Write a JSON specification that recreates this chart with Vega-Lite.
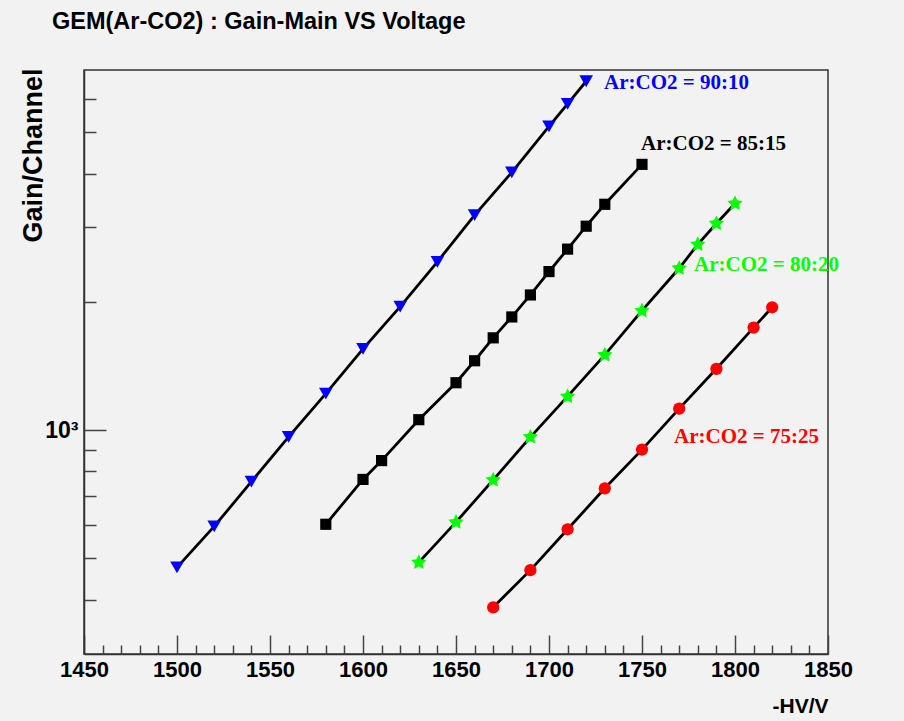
{
  "$schema": "https://vega.github.io/schema/vega-lite/v6.json",
  "width": 744,
  "height": 584,
  "autosize": {"type": "none"},
  "padding": {"left": 84, "top": 70, "right": 76, "bottom": 67},
  "background": "#f2f2f2",
  "title": {
    "text": "GEM(Ar-CO2) : Gain-Main VS Voltage",
    "anchor": "start",
    "frame": "group",
    "font": "Liberation Sans",
    "fontWeight": "bold",
    "fontSize": 23.5,
    "color": "#000000",
    "dx": -32,
    "offset": 16,
    "baseline": "alphabetic"
  },
  "config": {
    "view": {"stroke": "#333333", "strokeWidth": 1.5, "fill": "#f2f2f2"}
  },
  "datasets": {
    "points": [
      {"series": "90:10", "hv": 1500, "gain": 476},
      {"series": "90:10", "hv": 1520, "gain": 594},
      {"series": "90:10", "hv": 1540, "gain": 757},
      {"series": "90:10", "hv": 1560, "gain": 964},
      {"series": "90:10", "hv": 1580, "gain": 1218},
      {"series": "90:10", "hv": 1600, "gain": 1552},
      {"series": "90:10", "hv": 1620, "gain": 1950},
      {"series": "90:10", "hv": 1640, "gain": 2485},
      {"series": "90:10", "hv": 1660, "gain": 3197},
      {"series": "90:10", "hv": 1680, "gain": 4031},
      {"series": "90:10", "hv": 1700, "gain": 5166},
      {"series": "90:10", "hv": 1710, "gain": 5838},
      {"series": "90:10", "hv": 1720, "gain": 6596},
      {"series": "85:15", "hv": 1580, "gain": 601},
      {"series": "85:15", "hv": 1600, "gain": 766},
      {"series": "85:15", "hv": 1610, "gain": 848},
      {"series": "85:15", "hv": 1630, "gain": 1058},
      {"series": "85:15", "hv": 1650, "gain": 1292},
      {"series": "85:15", "hv": 1660, "gain": 1455},
      {"series": "85:15", "hv": 1670, "gain": 1647},
      {"series": "85:15", "hv": 1680, "gain": 1844},
      {"series": "85:15", "hv": 1690, "gain": 2077},
      {"series": "85:15", "hv": 1700, "gain": 2357},
      {"series": "85:15", "hv": 1710, "gain": 2661},
      {"series": "85:15", "hv": 1720, "gain": 3012},
      {"series": "85:15", "hv": 1730, "gain": 3391},
      {"series": "85:15", "hv": 1750, "gain": 4208},
      {"series": "80:20", "hv": 1630, "gain": 489},
      {"series": "80:20", "hv": 1650, "gain": 608},
      {"series": "80:20", "hv": 1670, "gain": 764},
      {"series": "80:20", "hv": 1690, "gain": 963},
      {"series": "80:20", "hv": 1710, "gain": 1200},
      {"series": "80:20", "hv": 1730, "gain": 1502},
      {"series": "80:20", "hv": 1750, "gain": 1908},
      {"series": "80:20", "hv": 1770, "gain": 2399},
      {"series": "80:20", "hv": 1780, "gain": 2730},
      {"series": "80:20", "hv": 1790, "gain": 3057},
      {"series": "80:20", "hv": 1800, "gain": 3405},
      {"series": "75:25", "hv": 1670, "gain": 383.5},
      {"series": "75:25", "hv": 1690, "gain": 469},
      {"series": "75:25", "hv": 1710, "gain": 585},
      {"series": "75:25", "hv": 1730, "gain": 730},
      {"series": "75:25", "hv": 1750, "gain": 900},
      {"series": "75:25", "hv": 1770, "gain": 1123},
      {"series": "75:25", "hv": 1790, "gain": 1393},
      {"series": "75:25", "hv": 1810, "gain": 1741},
      {"series": "75:25", "hv": 1820, "gain": 1943}
    ],
    "labels": [
      {"series": "90:10", "hv": 1729.6, "gain": 6339, "text": "Ar:CO2 = 90:10"},
      {"series": "85:15", "hv": 1749.5, "gain": 4538, "text": "Ar:CO2 = 85:15"},
      {"series": "80:20", "hv": 1778, "gain": 2363, "text": "Ar:CO2 = 80:20"},
      {"series": "75:25", "hv": 1767.2, "gain": 935, "text": "Ar:CO2 = 75:25"}
    ]
  },
  "layer": [
    {
      "data": {"name": "points"},
      "mark": {"type": "line", "color": "#000000", "strokeWidth": 2.8},
      "encoding": {
        "x": {
          "field": "hv",
          "type": "quantitative",
          "scale": {"domain": [1450, 1850], "nice": false, "zero": false},
          "axis": {
            "values": [1450,1460,1470,1480,1490,1500,1510,1520,1530,1540,1550,1560,1570,1580,1590,1600,1610,1620,1630,1640,1650,1660,1670,1680,1690,1700,1710,1720,1730,1740,1750,1760,1770,1780,1790,1800,1810,1820,1830,1840,1850],
            "tickCount": 200,
            "format": "d",
            "labelExpr": "datum.value % 50 === 0 ? datum.label : ''",
            "tickSize": {"condition": {"test": "datum.value % 50 === 0", "value": -19}, "value": -9},
            "labelPadding": 24,
            "labelFont": "Liberation Sans",
            "labelFontWeight": "bold",
            "labelFontSize": 22,
            "labelColor": "#000000",
            "labelBaseline": "top",
            "labelOverlap": false,
            "labelFlush": false,
            "grid": false,
            "domainColor": "#333333",
            "domainWidth": 1.5,
            "tickColor": "#444444",
            "tickWidth": 1.5,
            "title": "-HV/V",
            "titleFont": "Liberation Sans",
            "titleFontWeight": "bold",
            "titleFontSize": 21,
            "titleColor": "#000000",
            "titleAnchor": "end",
            "titleAlign": "right",
            "titleX": 744,
            "titleY": 58,
            "titleBaseline": "alphabetic"
          }
        },
        "y": {
          "field": "gain",
          "type": "quantitative",
          "scale": {"type": "log", "domain": [298, 7010], "nice": false},
          "axis": {
            "values": [400,500,600,700,800,900,1000,2000,3000,4000,5000,6000],
            "tickCount": 200,
            "labelExpr": "datum.value === 1000 ? '10³' : ''",
            "tickSize": {"condition": {"test": "datum.value === 1000", "value": -22}, "value": -12},
            "labelPadding": 28,
            "labelFont": "Liberation Sans",
            "labelFontWeight": "bold",
            "labelFontSize": 23,
            "labelColor": "#000000",
            "labelBaseline": "middle",
            "labelOverlap": false,
            "labelFlush": false,
            "grid": false,
            "domainColor": "#333333",
            "domainWidth": 1.5,
            "tickColor": "#444444",
            "tickWidth": 1.5,
            "title": "Gain/Channel",
            "titleFont": "Liberation Sans",
            "titleFontWeight": "bold",
            "titleFontSize": 27,
            "titleColor": "#000000",
            "titleAngle": 270,
            "titleAnchor": "end",
            "titleAlign": "right",
            "titleBaseline": "middle",
            "titleX": -51,
            "titleY": -2
          }
        },
        "detail": {"field": "series"}
      }
    },
    {
      "data": {"name": "points"},
      "mark": {"type": "point", "filled": true, "opacity": 1, "strokeWidth": 0},
      "encoding": {
        "x": {"field": "hv", "type": "quantitative"},
        "y": {"field": "gain", "type": "quantitative"},
        "color": {
          "field": "series",
          "type": "nominal",
          "scale": {"domain": ["90:10", "85:15", "80:20", "75:25"], "range": ["#0000ff", "#000000", "#00ff00", "#ff0000"]},
          "legend": null
        },
        "shape": {
          "field": "series",
          "type": "nominal",
          "scale": {"domain": ["90:10", "85:15", "80:20", "75:25"], "range": ["triangle-down", "square", "M0,-1L0.29,-0.4L0.951,-0.309L0.476,0.155L0.588,0.809L0,0.5L-0.588,0.809L-0.476,0.155L-0.951,-0.309L-0.29,-0.4Z", "circle"]},
          "legend": null
        },
        "size": {
          "field": "series",
          "type": "nominal",
          "scale": {"type": "ordinal", "domain": ["90:10", "85:15", "80:20", "75:25"], "range": [185, 125, 260, 150]},
          "legend": null
        }
      }
    },
    {
      "data": {"name": "labels"},
      "mark": {"type": "text", "align": "left", "baseline": "alphabetic", "font": "Liberation Serif", "fontWeight": "bold", "fontSize": 21},
      "encoding": {
        "x": {"field": "hv", "type": "quantitative"},
        "y": {"field": "gain", "type": "quantitative"},
        "text": {"field": "text"},
        "color": {"field": "series", "type": "nominal", "legend": null}
      }
    }
  ]
}
